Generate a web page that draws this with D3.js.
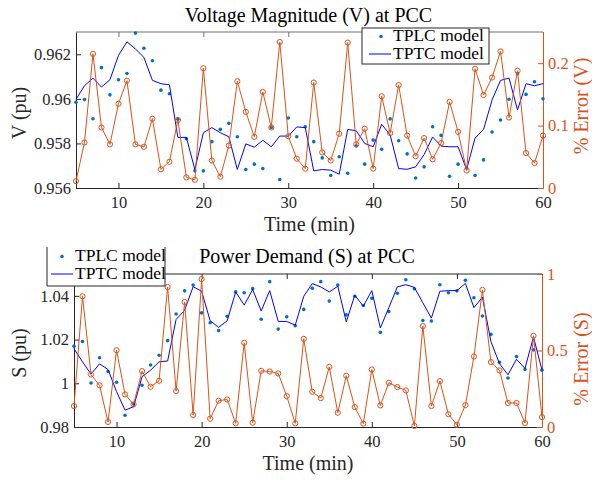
<!DOCTYPE html>
<html>
<head>
<meta charset="utf-8">
<script src="https://cdn.jsdelivr.net/npm/d3@7"></script>
<style>
  body { margin: 0; background: #fff; }
  svg text { font-family: "Liberation Serif", "DejaVu Serif", serif; }
</style>
</head>
<body>
<script>
// time axis (min)
const minutes = [5, 6, 7, 8, 9, 10, 11, 12, 13, 14, 15, 16, 17, 18, 19, 20,
  21, 22, 23, 24, 25, 26, 27, 28, 29, 30, 31, 32, 33, 34, 35, 36, 37, 38, 39, 40,
  41, 42, 43, 44, 45, 46, 47, 48, 49, 50, 51, 52, 53, 54, 55, 56, 57, 58, 59, 60];

// voltage magnitude at PCC (pu)
const v_tplc = [0.95985, 0.95997, 0.95911, 0.96140, 0.96018, 0.96086, 0.96114, 0.96295,
  0.96227, 0.96171, 0.96039, 0.96023, 0.95908, 0.95821, 0.95677, 0.95677, 0.95808, 0.95863,
  0.95890, 0.95830, 0.95683, 0.95707, 0.95687, 0.95872, 0.95638, 0.95914, 0.95830, 0.95875,
  0.95808, 0.95735, 0.95656, 0.95740, 0.95666, 0.95789, 0.95707, 0.95815, 0.95774, 0.95910,
  0.95812, 0.95753, 0.95645, 0.95695, 0.95875, 0.95836, 0.95653, 0.95707, 0.95690, 0.95656,
  0.95726, 0.95851, 0.95905, 0.95998, 0.96113, 0.96020, 0.96077, 0.96000];
const v_tptc = [0.95998, 0.96059, 0.96093, 0.96053, 0.96086, 0.96195, 0.96256, 0.96224,
  0.96186, 0.96083, 0.96068, 0.96063, 0.95827, 0.95827, 0.95683, 0.95848, 0.95871, 0.95848,
  0.95830, 0.95683, 0.95798, 0.95783, 0.95814, 0.95785, 0.95833, 0.95833, 0.95874, 0.95871,
  0.95677, 0.95683, 0.95680, 0.95662, 0.95863, 0.95857, 0.95800, 0.95785, 0.95886, 0.95838,
  0.95687, 0.95684, 0.95695, 0.95750, 0.95829, 0.95788, 0.95785, 0.95785, 0.95683, 0.95824,
  0.95863, 0.95995, 0.96083, 0.96093, 0.95950, 0.96068, 0.96059, 0.96068];
const v_err = [0.011, 0.073, 0.215, 0.097, 0.070, 0.135, 0.172, 0.070, 0.066, 0.111, 0.030,
  0.042, 0.109, 0.017, 0.013, 0.192, 0.044, 0.018, 0.068, 0.171, 0.122, 0.082, 0.154, 0.097,
  0.234, 0.083, 0.047, 0.031, 0.169, 0.057, 0.044, 0.087, 0.233, 0.070, 0.095, 0.031, 0.147,
  0.088, 0.165, 0.084, 0.051, 0.080, 0.046, 0.072, 0.138, 0.090, 0.028, 0.191, 0.149, 0.177,
  0.219, 0.113, 0.188, 0.056, 0.040, 0.084];

// power demand at PCC (pu)
const s_tplc = [1.0170, 1.0191, 1.0001, 1.0117, 1.0054, 1.0005, 0.9854, 0.9905, 0.9991,
  1.0084, 1.0128, 1.0195, 1.0317, 1.0423, 1.0450, 1.0322, 1.0277, 1.0241, 1.0307, 1.0418,
  1.0414, 1.0433, 1.0293, 1.0465, 1.0248, 1.0304, 1.0263, 1.0338, 1.0435, 1.0465, 1.0376,
  1.0450, 1.0313, 1.0398, 1.0356, 1.0389, 1.0233, 1.0328, 1.0412, 1.0474, 1.0432, 1.0287,
  1.0285, 1.0451, 1.0414, 1.0423, 1.0471, 1.0391, 1.0308, 1.0224, 1.0096, 1.0024, 1.0122,
  1.0063, 1.0153, 1.0060];
const s_tptc = [1.0158, 1.0098, 1.0042, 1.0089, 1.0063, 0.9962, 0.9877, 0.9893, 1.0030,
  1.0060, 1.0098, 1.0102, 1.0292, 1.0334, 1.0442, 1.0421, 1.0286, 1.0256, 1.0286, 1.0418,
  1.0358, 1.0429, 1.0331, 1.0424, 1.0283, 1.0283, 1.0266, 1.0398, 1.0456, 1.0441, 1.0418,
  1.0444, 1.0281, 1.0403, 1.0353, 1.0424, 1.0253, 1.0346, 1.0441, 1.0451, 1.0439, 1.0368,
  1.0298, 1.0421, 1.0424, 1.0424, 1.0457, 1.0346, 1.0394, 1.0191, 1.0090, 1.0039, 1.0110,
  1.0068, 1.0212, 1.0060];
const s_err = [0.137, 0.854, 0.343, 0.272, 0.033, 0.502, 0.213, 0.148, 0.365, 0.263, 0.302,
  0.915, 0.235, 0.817, 0.078, 0.967, 0.054, 0.172, 0.180, 0.024, 0.550, 0.028, 0.367, 0.363,
  0.350, 0.202, 0.024, 0.576, 0.230, 0.189, 0.393, 0.093, 0.335, 0.130, 0.022, 0.376, 0.141,
  0.289, 0.261, 0.239, 0.007, 0.659, 0.137, 0.300, 0.083, 0.015, 0.143, 0.461, 0.896, 0.424,
  0.370, 0.157, 0.157, 0.026, 0.596, 0.065];

// ticks
const time_ticks = [10, 20, 30, 40, 50, 60];
const v_ticks = [0.956, 0.958, 0.96, 0.962];
const v_tick_labels = ["0.956", "0.958", "0.96", "0.962"];
const v_err_ticks = [0, 0.1, 0.2];
const v_err_tick_labels = ["0", "0.1", "0.2"];
const s_ticks = [0.98, 1, 1.02, 1.04];
const s_tick_labels = ["0.98", "1", "1.02", "1.04"];
const s_err_ticks = [0, 0.5, 1];
const s_err_tick_labels = ["0", "0.5", "1"];
const series_names = ["TPLC model", "TPTC model"];

const ink = "#262626", orange = "#D95319", dot_blue = "#0072BD", line_blue = "#0000FF";
const serif = "Liberation Serif, DejaVu Serif, serif";

const svg = d3.select("body").append("svg")
    .attr("width", 592)
    .attr("height", 481)
    .attr("font-family", serif);

function style_axis(a, color) {
  a.attr("font-family", serif).attr("font-size", 16.5);
  a.selectAll("path,line").style("stroke", color);
  a.selectAll("text").attr("fill", color).attr("font-family", serif);
}

function draw_panel(p) {
  const x = d3.scaleLinear().domain([5, 60]).range([p.left, p.right]);
  const y = d3.scaleLinear().domain(p.y_domain).range([p.bottom, p.top]);
  const y2 = d3.scaleLinear().domain(p.err_domain).range([p.bottom, p.top]);
  const g = svg.append("g");

  // top border
  g.append("line")
      .attr("x1", p.left).attr("x2", p.right)
      .attr("y1", p.top).attr("y2", p.top)
      .style("stroke", p.top_color).style("stroke-width", 1);
  g.append("g")
      .attr("transform", "translate(0," + p.top + ")")
      .call(d3.axisTop(x).tickValues(time_ticks).tickSize(-5).tickFormat(""))
      .call(a => a.select(".domain").remove())
      .selectAll("line").style("stroke", p.top_color);

  // bottom axis
  const xa = g.append("g")
      .attr("transform", "translate(0," + p.bottom + ")")
      .call(d3.axisBottom(x).tickValues(time_ticks).tickSizeInner(-5).tickSizeOuter(0).tickPadding(8));
  style_axis(xa, ink);

  // left axis
  const ya = g.append("g")
      .attr("transform", "translate(" + p.left + ",0)")
      .call(d3.axisLeft(y).tickValues(p.y_ticks).tickFormat((d, i) => p.y_tick_labels[i])
        .tickSizeInner(-5).tickSizeOuter(0).tickPadding(5));
  style_axis(ya, ink);

  // right axis
  const ra = g.append("g")
      .attr("transform", "translate(" + p.right + ",0)")
      .call(d3.axisRight(y2).tickValues(p.err_ticks).tickFormat((d, i) => p.err_tick_labels[i])
        .tickSizeInner(-5).tickSizeOuter(0).tickPadding(5));
  style_axis(ra, orange);

  // TPLC dots
  g.append("g").selectAll("circle")
      .data(p.tplc)
      .enter().append("circle")
      .attr("cx", (d, i) => x(minutes[i]))
      .attr("cy", d => y(d))
      .attr("r", 1.8)
      .style("fill", dot_blue);

  // TPTC line
  const tptc_line = d3.line()
      .x((d, i) => x(minutes[i]))
      .y(d => y(d));
  g.append("path")
      .datum(p.tptc)
      .attr("d", tptc_line)
      .style("fill", "none")
      .style("stroke", line_blue)
      .style("stroke-width", 1);

  // error line with circles
  const err_line = d3.line()
      .x((d, i) => x(minutes[i]))
      .y(d => y2(d));
  g.append("path")
      .datum(p.err)
      .attr("d", err_line)
      .style("fill", "none")
      .style("stroke", orange)
      .style("stroke-width", 1);
  g.append("g").selectAll("circle")
      .data(p.err)
      .enter().append("circle")
      .attr("cx", (d, i) => x(minutes[i]))
      .attr("cy", d => y2(d))
      .attr("r", 2.6)
      .style("fill", "none")
      .style("stroke", orange)
      .style("stroke-width", 1);

  // title and labels
  g.append("text")
      .attr("x", (p.left + p.right) / 2 - 1).attr("y", p.title_y)
      .attr("text-anchor", "middle")
      .attr("font-size", 20).attr("fill", "#000")
      .text(p.title);
  g.append("text")
      .attr("x", (p.left + p.right) / 2).attr("y", p.bottom + 43)
      .attr("text-anchor", "middle")
      .attr("font-size", 20).attr("fill", ink)
      .text("Time (min)");
  g.append("text")
      .attr("transform", "translate(" + 26 + "," + p.ylabel_y + ") rotate(-90)")
      .attr("text-anchor", "middle")
      .attr("font-size", 20).attr("fill", ink)
      .text(p.ylabel);
  g.append("text")
      .attr("transform", "translate(" + 588 + "," + p.errlabel_y + ") rotate(-90)")
      .attr("text-anchor", "middle")
      .attr("font-size", 20).attr("fill", orange)
      .text(p.errlabel);

  // legend
  const lg = p.legend;
  const leg = svg.append("g");
  if (lg.clip_top) {
    leg.append("rect")
        .attr("x", lg.x0).attr("y", lg.clip_top)
        .attr("width", lg.x1 - lg.x0).attr("height", lg.y1 - lg.clip_top)
        .style("fill", "#fff");
    leg.append("path")
        .attr("d", "M" + lg.x0 + "," + lg.clip_top + "V" + lg.y1 + "H" + lg.x1 + "V" + lg.clip_top)
        .style("fill", "none").style("stroke", ink).style("stroke-width", 1);
  } else {
    leg.append("rect")
        .attr("x", lg.x0).attr("y", lg.y0)
        .attr("width", lg.x1 - lg.x0).attr("height", lg.y1 - lg.y0)
        .style("fill", "#fff").style("stroke", ink).style("stroke-width", 1);
  }
  leg.append("circle")
      .attr("cx", lg.dot_x).attr("cy", lg.row1 - 4.5)
      .attr("r", 1.8).style("fill", dot_blue);
  leg.append("line")
      .attr("x1", lg.line_x0).attr("x2", lg.line_x1)
      .attr("y1", lg.row2 - 5).attr("y2", lg.row2 - 5)
      .style("stroke", line_blue).style("stroke-width", 1);
  leg.selectAll("text.leg")
      .data(series_names)
      .enter().append("text")
      .attr("class", "leg")
      .attr("x", lg.text_x)
      .attr("y", (d, i) => i == 0 ? lg.row1 : lg.row2)
      .attr("font-size", 17.5).attr("fill", "#000")
      .text(d => d);
}

draw_panel({
  left: 76, right: 543, top: 32, bottom: 188,
  y_domain: [0.956, 0.963], y_ticks: v_ticks, y_tick_labels: v_tick_labels,
  err_domain: [0, 0.25], err_ticks: v_err_ticks, err_tick_labels: v_err_tick_labels,
  tplc: v_tplc, tptc: v_tptc, err: v_err,
  top_color: "#707070",
  title: "Voltage Magnitude (V) at PCC", title_y: 22,
  ylabel: "V (pu)", ylabel_y: 113,
  errlabel: "% Error (V)", errlabel_y: 106,
  legend: {x0: 362, x1: 489, y0: 28, y1: 64, dot_x: 381, line_x0: 369, line_x1: 391,
    text_x: 393, row1: 41, row2: 59}
});

draw_panel({
  left: 74, right: 542, top: 274, bottom: 427,
  y_domain: [0.98, 1.05], y_ticks: s_ticks, y_tick_labels: s_tick_labels,
  err_domain: [0, 1], err_ticks: s_err_ticks, err_tick_labels: s_err_tick_labels,
  tplc: s_tplc, tptc: s_tptc, err: s_err,
  top_color: ink,
  title: "Power Demand (S) at PCC", title_y: 263,
  ylabel: "S (pu)", ylabel_y: 353,
  errlabel: "% Error (S)", errlabel_y: 359,
  legend: {x0: 47, x1: 165, clip_top: 247, y1: 286, dot_x: 62, line_x0: 51, line_x1: 73,
    text_x: 75, row1: 261, row2: 279}
});
</script>
</body>
</html>
